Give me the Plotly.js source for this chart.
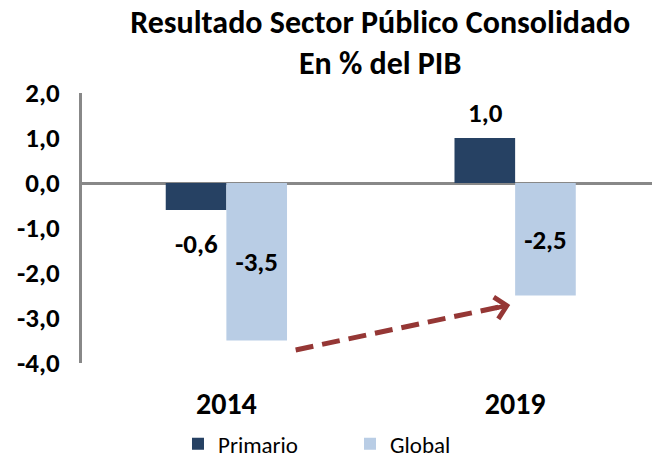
<!DOCTYPE html>
<html>
<head>
<meta charset="utf-8">
<script src="https://cdn.plot.ly/plotly-3.0.1.min.js"></script>
<style>html,body{margin:0;padding:0;background:#fff;}#chart{width:652px;height:459px;}</style>
</head>
<body>
<div id="chart"></div>
<script>
const categories = ['2014', '2019'];
const primario = [-0.6, 1.0];
const global = [-3.5, -2.5];
const seriesNames = ['Primario', 'Global'];
const yTickVals = [2, 1, 0, -1, -2, -3, -4];
const yTickText = ['2,0', '1,0', '0,0', '-1,0', '-2,0', '-3,0', '-4,0'];
const titleLines = ['Resultado Sector Público Consolidado', 'En % del PIB'];
const arrowFrom = [0.24, -3.71];
const arrowTo = [0.983, -2.71];

const FONT = 'Carlito, Lato, "Open Sans", sans-serif';
const fmt = v => v.toFixed(1).replace('.', ',');

const traces = [
  {
    type: 'bar', name: seriesNames[0], x: categories, y: primario,
    marker: {color: '#264163'},
    hoverinfo: 'skip'
  },
  {
    type: 'bar', name: seriesNames[1], x: categories, y: global,
    marker: {color: '#B9CDE5'},
    text: global.map(fmt), textposition: 'inside', insidetextanchor: 'middle',
    textangle: 0, constraintext: 'none',
    insidetextfont: {family: FONT, size: 27, color: '#000', weight: 'bold'},
    hoverinfo: 'skip'
  }
];

const annotations = primario.map((v, i) => ({
  x: i, y: v, xref: 'x', yref: 'y',
  text: '<b>' + fmt(v) + '</b>', showarrow: false,
  xshift: -30, yshift: v < 0 ? -33 : 26,
  font: {family: FONT, size: 27, color: '#000'}
}));
annotations.push({
  x: arrowTo[0], y: arrowTo[1], xref: 'x', yref: 'y',
  axref: 'pixel', ayref: 'pixel', ax: -16, ay: 3.4,
  showarrow: true, arrowhead: 4, arrowwidth: 4.5, arrowsize: 0.95,
  arrowcolor: '#953735', text: ''
});

const layout = {
  width: 652, height: 459,
  margin: {l: 82, r: 0, t: 93, b: 96},
  paper_bgcolor: '#fff', plot_bgcolor: '#fff',
  font: {family: FONT, color: '#000'},
  title: {
    text: '<b>' + titleLines.join('<br>') + '</b>',
    x: 0.583, xanchor: 'center', xref: 'container',
    y: 0.929, yanchor: 'middle', yref: 'container',
    font: {family: FONT, size: 32, color: '#000'}
  },
  barmode: 'group', bargap: 0.58, bargroupgap: 0,
  showlegend: true,
  legend: {
    orientation: 'h', x: 0.273, xanchor: 'left', xref: 'container',
    y: 0.033, yanchor: 'middle', yref: 'container',
    font: {family: FONT, size: 23, color: '#000'},
    entrywidth: 127, traceorder: 'normal'
  },
  xaxis: {
    type: 'category', range: [-0.5, 1.474],
    showline: false, showgrid: false, zeroline: false, ticks: '',
    ticklabelstandoff: 20,
    tickfont: {family: FONT, size: 30, color: '#000', weight: 'bold'},
    fixedrange: true
  },
  yaxis: {
    range: [-4, 2], tickvals: yTickVals, ticktext: yTickText,
    showline: true, linecolor: '#888888', linewidth: 3,
    showgrid: false, zeroline: true, zerolinecolor: '#888888', zerolinewidth: 3,
    ticks: '', ticklabelstandoff: 14,
    tickfont: {family: FONT, size: 27, color: '#000', weight: 'bold'},
    fixedrange: true
  },
  shapes: [{
    type: 'line', xref: 'x', yref: 'y',
    x0: arrowFrom[0], y0: arrowFrom[1], x1: arrowTo[0] - 0.04, y1: arrowTo[1] - 0.05,
    line: {color: '#953735', width: 5, dash: '18px,9px'}
  }],
  annotations: annotations
};

Plotly.newPlot('chart', traces, layout, {displayModeBar: false, staticPlot: true});
</script>
</body>
</html>
